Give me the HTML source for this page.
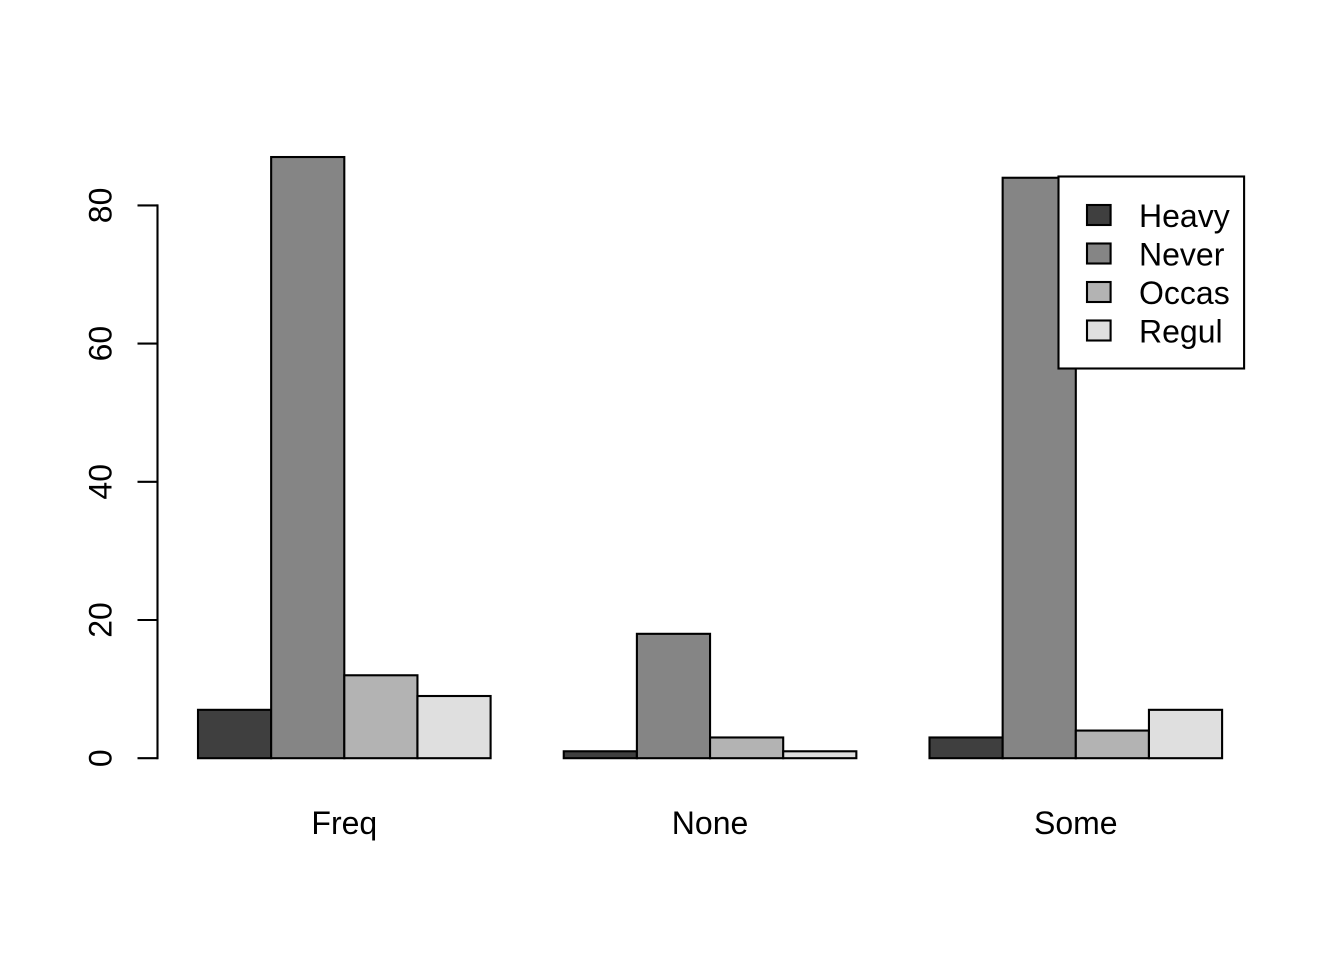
<!DOCTYPE html>
<html>
<head>
<meta charset="utf-8">
<style>
html,body{margin:0;padding:0;background:#fff;width:1344px;height:960px;overflow:hidden}
svg{display:block}
text{font-family:"Liberation Sans",Arial,sans-serif;font-size:32px;fill:#000}
</style>
</head>
<body>
<svg id="chart" xmlns="http://www.w3.org/2000/svg" width="1344" height="960" viewBox="0 0 1344 960">
<rect x="0" y="0" width="1344" height="960" fill="#ffffff"/>
</svg>
<script>
const categories = ['Freq', 'None', 'Some'];
const seriesNames = ['Heavy', 'Never', 'Occas', 'Regul'];
const heavyValues = [7, 1, 3];
const neverValues = [87, 18, 84];
const occasValues = [12, 3, 4];
const regulValues = [9, 1, 7];
const yTickLabels = [0, 20, 40, 60, 80];

const seriesValues = [heavyValues, neverValues, occasValues, regulValues];
const seriesColors = ['#3f3f3f', '#858585', '#b3b3b3', '#dfdfdf'];
const svg = document.getElementById('chart');
const NS = 'http://www.w3.org/2000/svg';

const yScale = v => 758.2 - v * 6.91;
const barUnit = 73.15;
const xStart = 198;
const xScale = slot => xStart + slot * barUnit;

function make(tag, attrs, parent) {
  const el = document.createElementNS(NS, tag);
  for (const k in attrs) el.setAttribute(k, attrs[k]);
  (parent || svg).appendChild(el);
  return el;
}

const barsGroup = make('g', {stroke: '#000', 'stroke-width': 2.1});


const slotsPerGroup = seriesNames.length + 1;
categories.forEach((cat, c) => {
  seriesNames.forEach((name, s) => {
    const slot = c * slotsPerGroup + s;
    const v = seriesValues[s][c];
    const rect = make('rect', {
      x: xScale(slot),
      y: yScale(v),
      width: barUnit,
      height: yScale(0) - yScale(v),
      fill: seriesColors[s]
    }, barsGroup);
    
    
  });
  const label = make('text', {
    x: xScale(c * slotsPerGroup + seriesNames.length / 2),
    y: 834,
    'text-anchor': 'middle'
  });
  label.textContent = cat;
  
  
});

const axisGroup = make('g', {stroke: '#000', 'stroke-width': 2.1, fill: 'none'});


const axisX = 157.5;
const axisLine = make('line', {
  x1: axisX,
  x2: axisX,
  y1: yScale(yTickLabels[0]),
  y2: yScale(yTickLabels[yTickLabels.length - 1]),
  'stroke-linecap': 'square'
}, axisGroup);


yTickLabels.forEach(t => {
  const tick = make('line', {x1: axisX - 20, x2: axisX, y1: yScale(t), y2: yScale(t)}, axisGroup);
  
  
  const label = make('text', {
    x: 111.5,
    y: yScale(t),
    'text-anchor': 'middle',
    transform: 'rotate(-90 111.5 ' + yScale(t) + ')'
  });
  label.textContent = String(t);
  
  
});

const legend = make('g', {});


const legendBox = make('rect', {x: 1058.5, y: 176.5, width: 185.6, height: 192, fill: '#fff', stroke: '#000', 'stroke-width': 2.1}, legend);


seriesNames.forEach((name, s) => {
  const cy = 215 + s * 38.5;
  const swatch = make('rect', {x: 1087, y: cy - 10, width: 23.6, height: 20, fill: seriesColors[s], stroke: '#000', 'stroke-width': 2.1}, legend);
  
  
  const label = make('text', {x: 1139, y: cy + 12}, legend);
  label.textContent = name;
  
  
});
</script>
</body>
</html>
